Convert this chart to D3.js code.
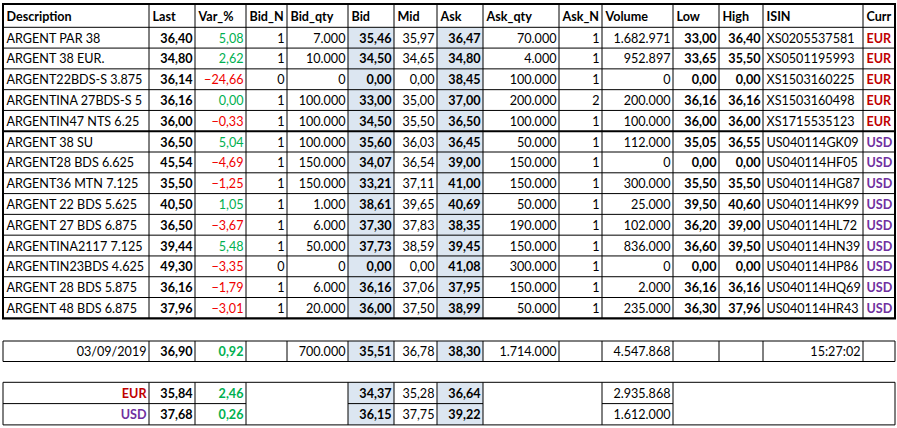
<!DOCTYPE html>
<html><head><meta charset="utf-8">
<script src="https://cdn.jsdelivr.net/npm/d3@7"></script>
<style>html,body{margin:0;padding:0;background:#fff;}svg{display:block;}</style>
</head><body>
<script>
// ---- data ----
const headers = ["Description","Last","Var_%","Bid_N","Bid_qty","Bid","Mid","Ask","Ask_qty","Ask_N","Volume","Low","High","ISIN","Curr"];
const description = ["ARGENT PAR 38","ARGENT 38 EUR.","ARGENT22BDS-S 3.875","ARGENTINA 27BDS-S 5","ARGENTIN47 NTS 6.25","ARGENT 38 SU","ARGENT28 BDS 6.625","ARGENT36 MTN 7.125","ARGENT 22 BDS 5.625","ARGENT 27 BDS 6.875","ARGENTINA2117 7.125","ARGENTIN23BDS 4.625","ARGENT 28 BDS 5.875","ARGENT 48 BDS 6.875"];
const last = [36.40,34.80,36.14,36.16,36.00,36.50,45.54,35.50,40.50,36.50,39.44,49.30,36.16,37.96];
const varPct = [5.08,2.62,-24.66,0.00,-0.33,5.04,-4.69,-1.25,1.05,-3.67,5.48,-3.35,-1.79,-3.01];
const bidN = [1,1,0,1,1,1,1,1,1,1,1,0,1,1];
const bidQty = [7000,10000,0,100000,100000,100000,150000,150000,1000,6000,50000,0,6000,20000];
const bid = [35.46,34.50,0.00,33.00,34.50,35.60,34.07,33.21,38.61,37.30,37.73,0.00,36.16,36.00];
const mid = [35.97,34.65,0.00,35.00,35.50,36.03,36.54,37.11,39.65,37.83,38.59,0.00,37.06,37.50];
const ask = [36.47,34.80,38.45,37.00,36.50,36.45,39.00,41.00,40.69,38.35,39.45,41.08,37.95,38.99];
const askQty = [70000,4000,100000,200000,100000,50000,150000,150000,50000,190000,150000,300000,150000,50000];
const askN = [1,1,1,2,1,1,1,1,1,1,1,1,1,1];
const volume = [1682971,952897,0,200000,100000,112000,0,300000,25000,102000,836000,0,2000,235000];
const low = [33.00,33.65,0.00,36.16,36.00,35.05,0.00,35.50,39.50,36.20,36.60,0.00,36.16,36.30];
const high = [36.40,35.50,0.00,36.16,36.00,36.55,0.00,35.50,40.60,39.00,39.50,0.00,36.16,37.96];
const isin = ["XS0205537581","XS0501195993","XS1503160225","XS1503160498","XS1715535123","US040114GK09","US040114HF05","US040114HG87","US040114HK99","US040114HL72","US040114HN39","US040114HP86","US040114HQ69","US040114HR43"];
const curr = ["EUR","EUR","EUR","EUR","EUR","USD","USD","USD","USD","USD","USD","USD","USD","USD"];
// summary
const summaryDate = "03/09/2019";
const summaryLast = 36.90, summaryVar = 0.92, summaryBidQty = 700000, summaryBid = 35.51, summaryMid = 36.78, summaryAsk = 38.30, summaryAskQty = 1714000, summaryVolume = 4547868, summaryTime = "15:27:02";
// currency totals
const currNames = ["EUR","USD"];
const currLast = [35.84,37.68];
const currVar = [2.46,0.26];
const currBid = [34.37,36.15];
const currMid = [35.28,37.75];
const currAsk = [36.64,39.22];
const currVolume = [2935868,1612000];

// ---- formatting ----
const loc = d3.formatLocale({decimal:",",thousands:".",grouping:[3],currency:["",""]});
const f2 = loc.format(",.2f"), f0 = loc.format(",.0f");
const colors = {green:"#00b050", red:"#f00000", EUR:"#c00000", USD:"#7030a0", shade:"#dce6f1"};

// ---- layout ----
const W = 897, H = 428;
const edges = [3,149,195,246,287,348,394,437,483,559,602,673,719,763,863,895];
const FONT = "Lato, 'Open Sans', sans-serif";
const FS = 13.4, SX = 0.94;
const svg = d3.select("body").append("svg").attr("width",W).attr("height",H)
  .style("font-family",FONT).style("font-size",FS+"px");

const y = d3.scaleBand().domain(d3.range(description.length)).range([27.3,318.3]).padding(0);
const colX = i => edges[i], colW = i => edges[i+1]-edges[i];

const gShade = svg.append("g"), gLines = svg.append("g"), gText = svg.append("g");

function txt(col, yTop, h, s, opt={}){
  const right = opt.align === "right";
  const x = right ? edges[col+1]-2.5 : edges[col]+3.5;
  gText.append("text")
    .attr("x", x)
    .attr("y", yTop + h/2 + 5)
    .attr("transform", `translate(${x},0) scale(${SX},1) translate(${-x},0)`)
    .attr("text-anchor", right ? "end" : "start")
    .attr("font-weight", opt.bold ? "bold" : null)
    .attr("fill", opt.color || "#000")
    .text(s);
}
function hline(x1,x2,yy,w=1){ gLines.append("line").attr("x1",x1).attr("x2",x2).attr("y1",yy).attr("y2",yy).attr("stroke","#000").attr("stroke-width",w); }
function vline(xx,y1,y2,w=1){ gLines.append("line").attr("x1",xx).attr("x2",xx).attr("y1",y1).attr("y2",y2).attr("stroke","#000").attr("stroke-width",w); }
const varColor = v => v < 0 ? colors.red : colors.green;

// header
const hTop = 4, hBot = 27.3;
headers.forEach((h,i)=> txt(i, hTop, hBot-hTop, h, {bold:true}));

// shading for Bid (5) and Ask (7) columns
[5,7].forEach(c=>{
  gShade.append("rect").attr("x",colX(c)).attr("y",hBot).attr("width",colW(c)).attr("height",318.3-hBot).attr("fill",colors.shade);
});

// rows
description.forEach((d,i)=>{
  const t = y(i), h = y.bandwidth();
  txt(0,t,h,d);
  txt(1,t,h,f2(last[i]),{align:"right",bold:true});
  txt(2,t,h,f2(varPct[i]),{align:"right",color:varColor(varPct[i])});
  txt(3,t,h,f0(bidN[i]),{align:"right"});
  txt(4,t,h,f0(bidQty[i]),{align:"right"});
  txt(5,t,h,f2(bid[i]),{align:"right",bold:true});
  txt(6,t,h,f2(mid[i]),{align:"right"});
  txt(7,t,h,f2(ask[i]),{align:"right",bold:true});
  txt(8,t,h,f0(askQty[i]),{align:"right"});
  txt(9,t,h,f0(askN[i]),{align:"right"});
  txt(10,t,h,f0(volume[i]),{align:"right"});
  txt(11,t,h,f2(low[i]),{align:"right",bold:true});
  txt(12,t,h,f2(high[i]),{align:"right",bold:true});
  txt(13,t,h,isin[i]);
  txt(14,t,h,curr[i],{bold:true,color:colors[curr[i]]});
  if(i>0) hline(edges[0],edges[15],t, i===5 ? 2 : 1);
});
hline(edges[0],edges[15],hBot,1);
edges.forEach((e,i)=> vline(e, hTop, 318.3, (i===0||i===15)?2:1));
hline(edges[0]-1,edges[15]+1,hTop,2.2);
hline(edges[0]-1,edges[15]+1,318.3,2.2);

// summary row
const sTop = 341, sBot = 361.5, sh = sBot-sTop;
[5,7].forEach(c=> gShade.append("rect").attr("x",colX(c)).attr("y",sTop).attr("width",colW(c)).attr("height",sh).attr("fill",colors.shade));
txt(0,sTop,sh,summaryDate,{align:"right"});
txt(1,sTop,sh,f2(summaryLast),{align:"right",bold:true});
txt(2,sTop,sh,f2(summaryVar),{align:"right",bold:true,color:varColor(summaryVar)});
txt(4,sTop,sh,f0(summaryBidQty),{align:"right"});
txt(5,sTop,sh,f2(summaryBid),{align:"right",bold:true});
txt(6,sTop,sh,f2(summaryMid),{align:"right"});
txt(7,sTop,sh,f2(summaryAsk),{align:"right",bold:true});
txt(8,sTop,sh,f0(summaryAskQty),{align:"right"});
txt(10,sTop,sh,f0(summaryVolume),{align:"right"});
txt(13,sTop,sh,summaryTime,{align:"right"});
hline(edges[0],edges[15],sTop); hline(edges[0],edges[15],sBot);
edges.forEach(e=> vline(e,sTop,sBot));

// currency rows
const cTop = 382.3, cH = 21.3, cBot = cTop + 2*cH;
[5,7].forEach(c=> gShade.append("rect").attr("x",colX(c)).attr("y",cTop).attr("width",colW(c)).attr("height",2*cH).attr("fill",colors.shade));
currNames.forEach((c,i)=>{
  const t = cTop + i*cH;
  txt(0,t,cH,c,{align:"right",bold:true,color:colors[c]});
  txt(1,t,cH,f2(currLast[i]),{align:"right",bold:true});
  txt(2,t,cH,f2(currVar[i]),{align:"right",bold:true,color:varColor(currVar[i])});
  txt(5,t,cH,f2(currBid[i]),{align:"right",bold:true});
  txt(6,t,cH,f2(currMid[i]),{align:"right"});
  txt(7,t,cH,f2(currAsk[i]),{align:"right",bold:true});
  txt(10,t,cH,f0(currVolume[i]),{align:"right"});
});
hline(edges[0],edges[15],cTop); hline(edges[0],edges[15],cBot);
// middle line only in split columns
[[0,3],[5,8],[10,11]].forEach(([a,b])=> hline(edges[a],edges[b],cTop+cH));
[0,1,2,3,5,6,7,8,10,11,15].forEach(i=> vline(edges[i],cTop,cBot));
</script>
</body></html>
